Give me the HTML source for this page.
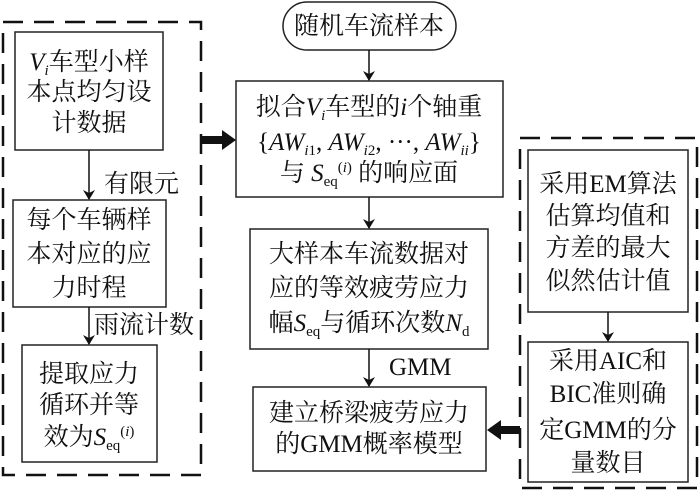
<!DOCTYPE html>
<html><head><meta charset="utf-8"><style>
html,body{margin:0;padding:0;background:#fff;}
svg{display:block;}
text{font-family:"Liberation Serif","Noto Serif CJK SC",serif;font-size:25px;fill:#111;}
.i{font-style:italic;}
.s{font-size:15px;}
</style></head><body>
<svg width="700" height="492" viewBox="0 0 700 492" xmlns="http://www.w3.org/2000/svg">
<defs>
<marker id="a" markerWidth="10" markerHeight="12" refX="9" refY="6" orient="auto" markerUnits="userSpaceOnUse">
<path d="M0,0 L10,6 L0,12 L3,6 z" fill="#111"/></marker>
</defs>
<g fill="none" stroke="#111" stroke-width="2.5" stroke-dasharray="20,11">
<rect x="3" y="22" width="198" height="453"/>
<rect x="520" y="138" width="177" height="350"/>
</g>
<g fill="none" stroke="#222" stroke-width="1.5">
<rect x="15" y="32" width="148" height="118"/>
<rect x="13" y="200" width="153" height="107"/>
<rect x="22" y="345" width="135" height="117"/>
<rect x="283" y="2" width="173" height="48" rx="24"/>
<rect x="236" y="81" width="267" height="116"/>
<rect x="250" y="229" width="238" height="120"/>
<rect x="253" y="387" width="233" height="84"/>
<rect x="528" y="150" width="160" height="162"/>
<rect x="528" y="342" width="160" height="140"/>
</g>
<g stroke="#111" stroke-width="1.5" marker-end="url(#a)">
<line x1="89" y1="150" x2="89" y2="199"/>
<line x1="89" y1="307" x2="89" y2="344"/>
<line x1="369" y1="50" x2="369" y2="80"/>
<line x1="369" y1="197" x2="369" y2="228"/>
<line x1="369" y1="349" x2="369" y2="386"/>
<line x1="608" y1="312" x2="608" y2="341"/>
</g>
<path d="M202,136 L222,136 L222,130 L236,140 L222,150 L222,144 L202,144 z" fill="#111"/>
<path d="M520,426 L501,426 L501,420 L487,430 L501,440 L501,434 L520,434 z" fill="#111"/>
<g text-anchor="middle">
<text x="369" y="34">随机车流样本</text>
<text x="89" y="70"><tspan class="i">V</tspan><tspan class="i s" dy="5">i</tspan><tspan dy="-5">车型小样</tspan></text>
<text x="89" y="100">本点均匀设</text>
<text x="89" y="131">计数据</text>
<text x="89" y="228">每个车辆样</text>
<text x="89" y="262">本对应的应</text>
<text x="89" y="296">力时程</text>
<text x="89" y="382">提取应力</text>
<text x="89" y="413">循环并等</text>
<text x="89" y="445">效为<tspan class="i">S</tspan><tspan class="s" dy="5">eq</tspan><tspan class="s" dy="-14">(</tspan><tspan class="s i">i</tspan><tspan class="s">)</tspan></text>
<text x="369" y="115">拟合<tspan class="i">V</tspan><tspan class="i s" dy="5">i</tspan><tspan dy="-5">车型的</tspan><tspan class="i">i</tspan>个轴重</text>
<text x="369" y="150">{<tspan class="i">AW</tspan><tspan class="s" dy="5"><tspan class="i">i</tspan>1</tspan><tspan dy="-5">, </tspan><tspan class="i">AW</tspan><tspan class="s" dy="5"><tspan class="i">i</tspan>2</tspan><tspan dy="-5">, ···, </tspan><tspan class="i">AW</tspan><tspan class="s i" dy="5">ii</tspan><tspan dy="-5">}</tspan></text>
<text x="369" y="181">与 <tspan class="i">S</tspan><tspan class="s" dy="5">eq</tspan><tspan class="s" dy="-14">(</tspan><tspan class="s i">i</tspan><tspan class="s">)</tspan><tspan dy="9"> 的响应面</tspan></text>
<text x="369" y="262">大样本车流数据对</text>
<text x="369" y="296">应的等效疲劳应力</text>
<text x="369" y="331">幅<tspan class="i">S</tspan><tspan class="s" dy="5">eq</tspan><tspan dy="-5">与循环次数</tspan><tspan class="i">N</tspan><tspan class="s" dy="5">d</tspan></text>
<text x="369" y="421">建立桥梁疲劳应力</text>
<text x="369" y="452">的GMM概率模型</text>
<text x="608" y="192">采用EM算法</text>
<text x="608" y="224">估算均值和</text>
<text x="608" y="256">方差的最大</text>
<text x="608" y="289">似然估计值</text>
<text x="608" y="369">采用AIC和</text>
<text x="608" y="402">BIC准则确</text>
<text x="608" y="438">定GMM的分</text>
<text x="608" y="471">量数目</text>
</g>
<text x="104" y="192">有限元</text>
<text x="94" y="333">雨流计数</text>
<text x="389" y="375">GMM</text>
</svg>
</body></html>
